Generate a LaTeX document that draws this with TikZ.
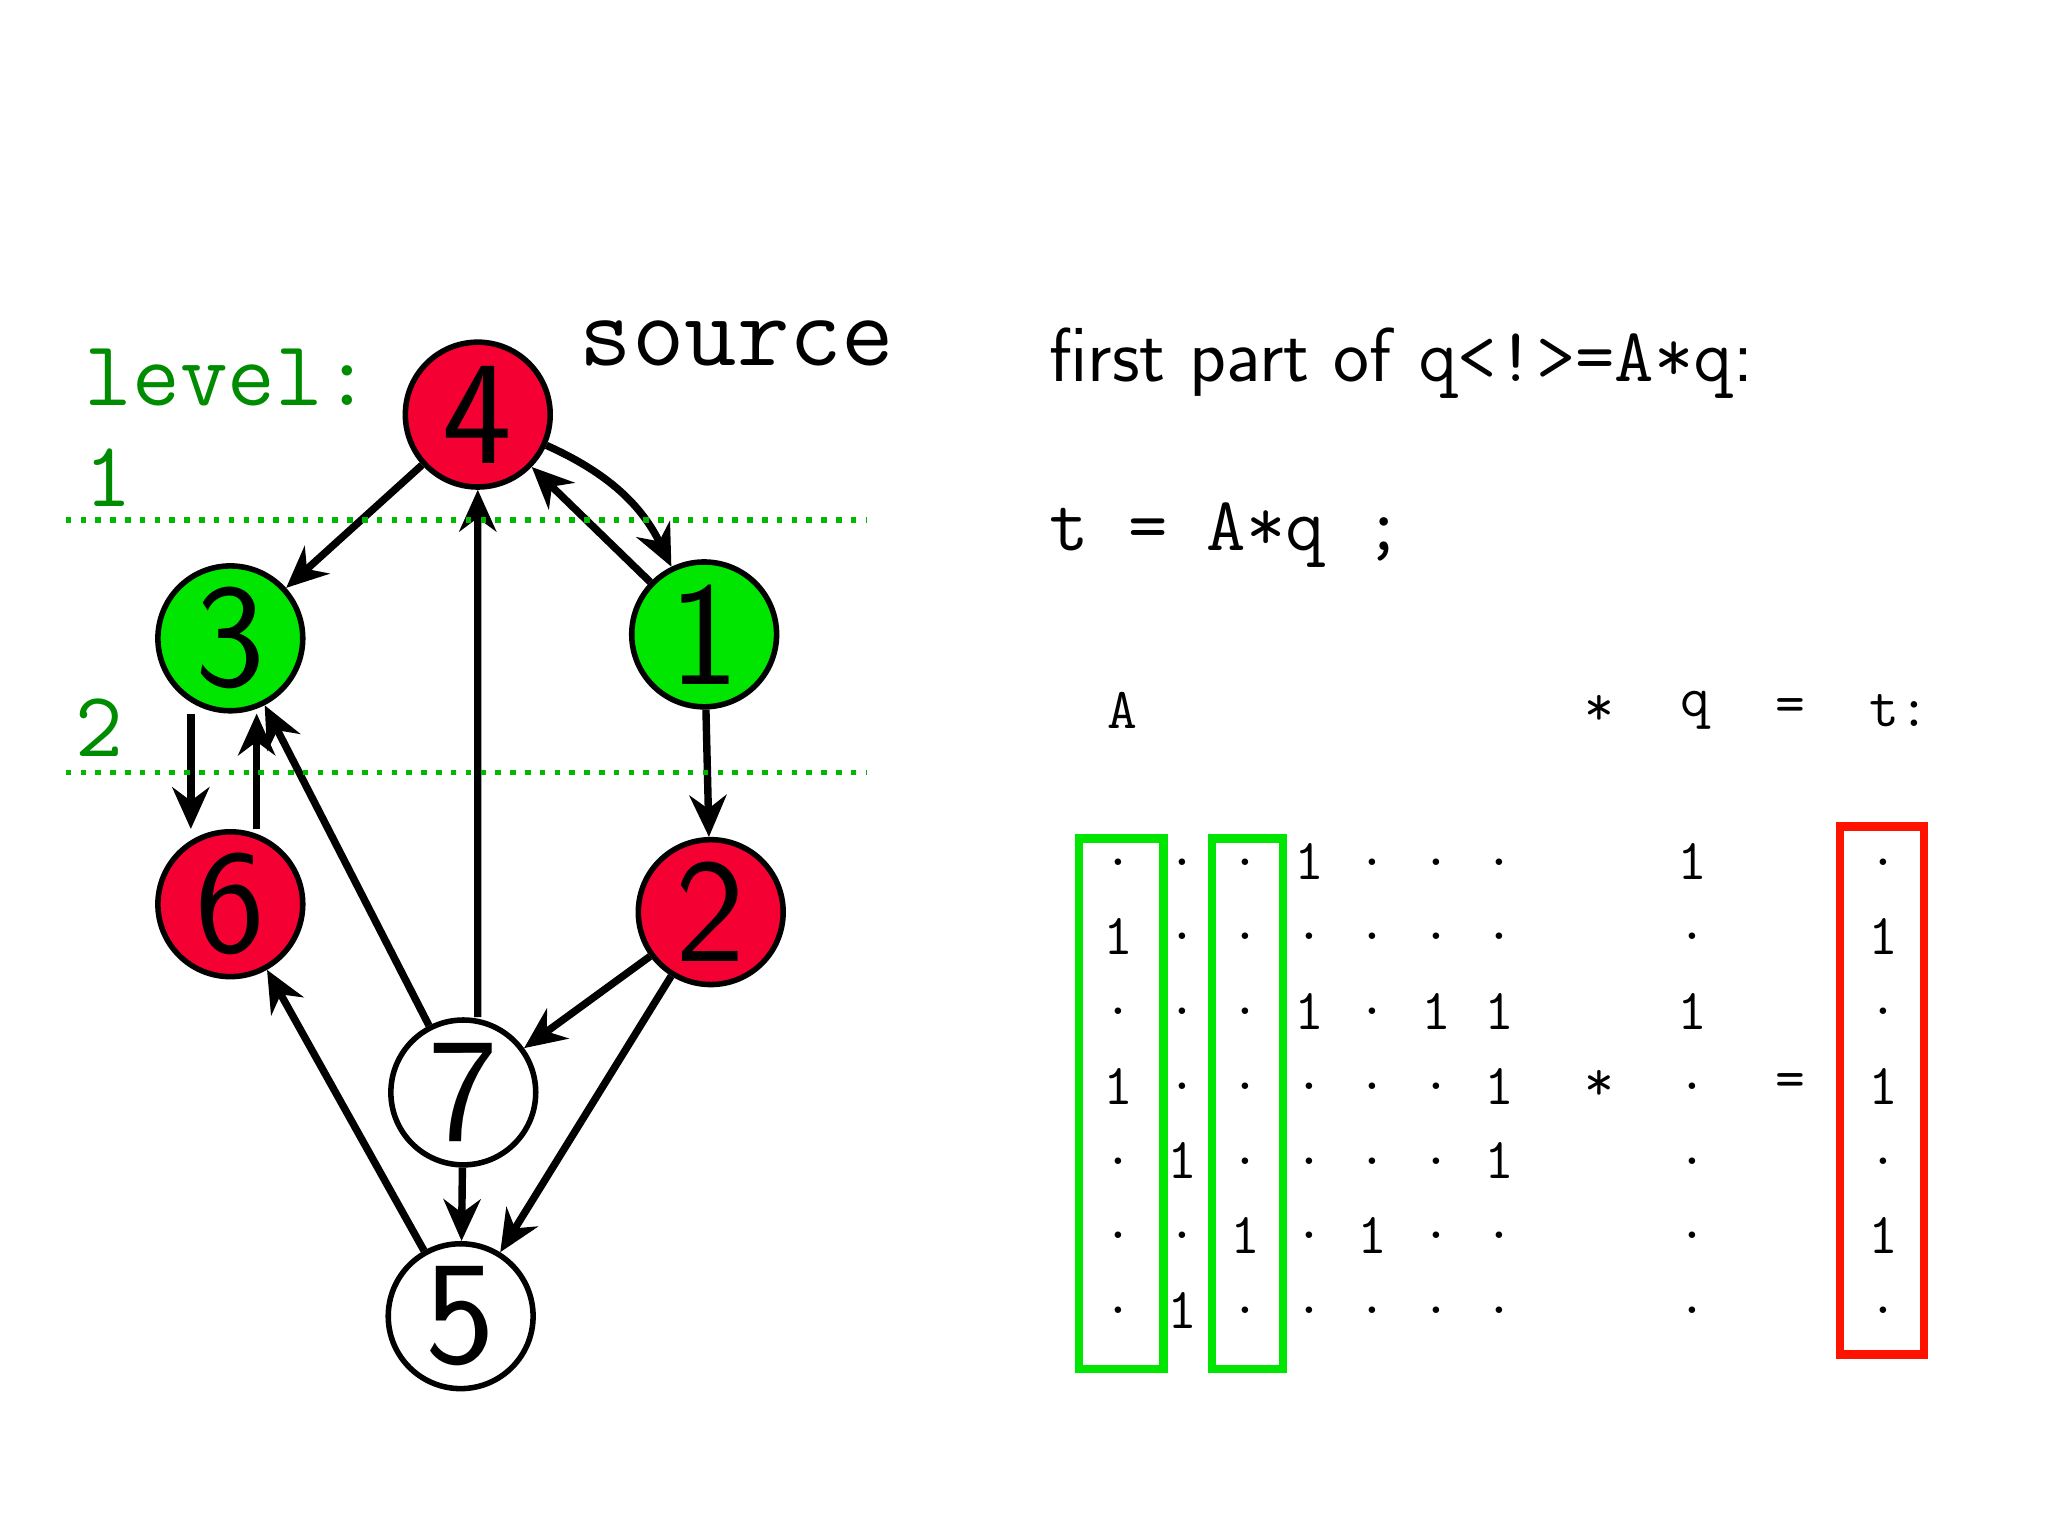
\documentclass[tikz,border=0pt]{standalone}
\usetikzlibrary{arrows.meta}
\definecolor{vred}{HTML}{F50032}
\definecolor{vgreen}{HTML}{00E600}
\begin{document}
\begin{tikzpicture}[x=0.01cm,y=-0.01cm,
 v/.style={circle,draw,line width=1.2pt,minimum size=1.1cm,inner sep=0pt,font=\fontsize{32}{32}\selectfont\sffamily},
 e/.style={-{Stealth[length=9pt,width=8pt]},line width=1.6pt},
 lv/.style={green!55!black,font=\fontsize{20}{20}\selectfont\ttfamily,anchor=base west},
 m/.style={font=\fontsize{12.5}{12.5}\selectfont\ttfamily},
 gb/.style={draw=vgreen,line width=1.8pt},
 rb/.style={draw=red!85!orange,line width=1.8pt}]
\useasboundingbox (0,0) rectangle (1556,1167);
\fill[white] (0,0) rectangle (1556,1167);
\node[v,fill=vred] (n4) at (363,315) {4};
\node[v,fill=vgreen] (n3) at (175,485) {3};
\node[v,fill=vgreen] (n1) at (535,482) {1};
\node[v,fill=vred] (n6) at (175,687) {6};
\node[v,fill=vred] (n2) at (540,693) {2};
\node[v,fill=white] (n7) at (352,830) {7};
\node[v,fill=white] (n5) at (350,1000) {5};
\draw[e] (n4) -- (n3);
\draw[e] (n4) to[bend left=20] (n1);
\draw[e] (n1) -- (n4);
\draw[e] ([xshift=0.11cm]n7.north) -- (n4.south);
\draw[e] (n7) -- (n3);
\draw[e] ([xshift=-0.3cm]n3.south) -- ([xshift=-0.3cm]n6.north);
\draw[e] ([xshift=0.2cm]n6.north) -- ([xshift=0.2cm]n3.south);
\draw[e] (n1) -- (n2);
\draw[e] (n2) -- (n7);
\draw[e] (n2) -- (n5);
\draw[e] (n7) -- (n5);
\draw[e] (n5) -- (n6);
\draw[vgreen!80!black,dotted,line width=1.2pt] (50,395) -- (658,395) (50,587) -- (658,587);
\node[lv] (lvl) at (52,308) {level:};
\node[lv] (l1) at (52,385) {1};
\node[lv] (l2) at (45,575) {2};
\node[font=\fontsize{22}{22}\selectfont\ttfamily,anchor=base] (src) at (560,278) {source};
\node[font=\fontsize{16.5}{16.5}\selectfont\sffamily,anchor=base west] (t1) at (785,290) {first part of \texttt{q<!>=A*q}:};
\node[font=\fontsize{16.5}{16.5}\selectfont\ttfamily,anchor=base west] (t2) at (785,418) {t = A*q ;};
\foreach \x/\s in {853/A,1215/*,1288/q,1360/=,1443/t:} \node[m] at (\x,540) {\s};
\foreach \r [count=\i] in {{.,.,.,1,.,.,.,1,.},{1,.,.,.,.,.,.,.,1},{.,.,.,1,.,1,1,1,.},{1,.,.,.,.,.,1,.,1},{.,1,.,.,.,.,1,.,.},{.,.,1,.,1,.,.,.,1},{.,1,.,.,.,.,.,.,.}}{
  \foreach \c [count=\j] in \r {
    \pgfmathsetmacro{\xx}{\j<8 ? 850+48.2*(\j-1) : (\j==8 ? 1286 : 1431)}
    \node[m] at (\xx,{598+56.8*\i}) {\c};
  }
}
\node[m] at (1215,825) {*};
\node[m] at (1360,825) {=};
\draw[gb] (820,637) rectangle (884,1040);
\draw[gb] (921,637) rectangle (975,1040);
\draw[rb] (1398,628) rectangle (1462,1029);
\end{tikzpicture}
\end{document}
